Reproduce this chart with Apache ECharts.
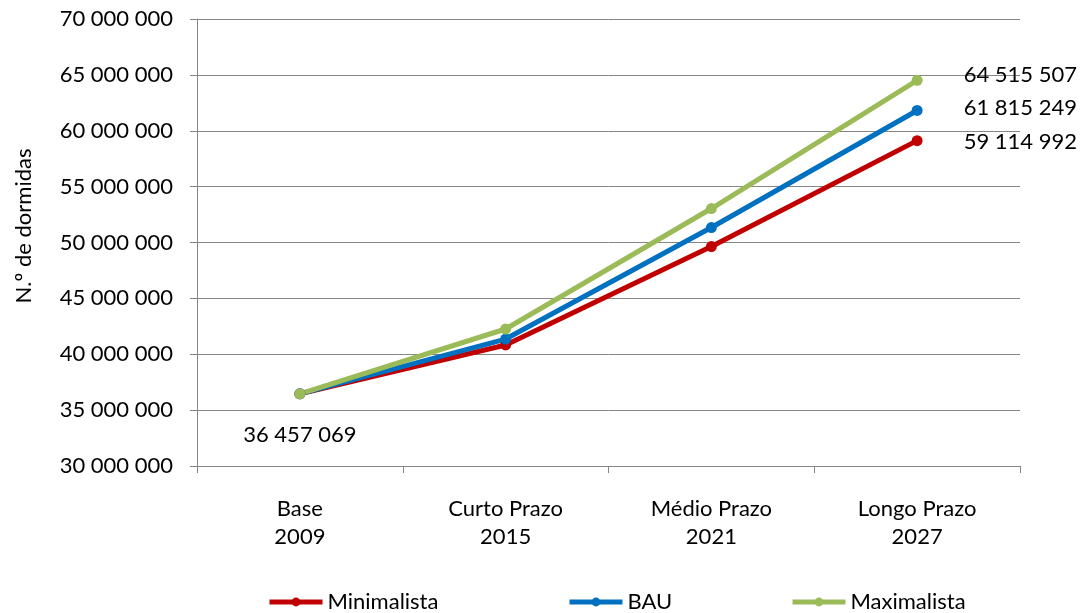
<!DOCTYPE html>
<html>
<head>
<meta charset="utf-8">
<script src="https://cdn.jsdelivr.net/npm/echarts@6/dist/echarts.min.js"></script>
<style>html,body{margin:0;padding:0;background:#fff}#c{width:1080px;height:613px}</style>
</head>
<body>
<div id="c"></div>
<script>
var categories = ["Base\n2009", "Curto Prazo\n2015", "Médio Prazo\n2021", "Longo Prazo\n2027"];
var seriesNames = ["Minimalista", "BAU", "Maximalista"];
var minimalista = [36457069, 40830000, 49640000, 59114992];
var bau = [36457069, 41360000, 51340000, 61815249];
var maximalista = [36457069, 42260000, 53040000, 64515507];
var yTicks = { min: 30000000, max: 70000000, interval: 5000000 };
var yName = "N.º de dormidas";

function fmt(v) { return String(Math.round(v)).replace(/\B(?=(\d{3})+(?!\d))/g, " "); }
var FONT = "Lato";
var FS = 22;

function build(values, endDy, showStart) {
  return values.map(function (v, i) {
    var d = { value: v };
    if (i === values.length - 1) {
      d.label = { show: true, position: 'right', distance: 41, offset: [0, endDy] };
    } else if (i === 0 && showStart) {
      d.label = { show: true, position: 'bottom', distance: 25 };
    }
    return d;
  });
}

function series(name, color, values, endDy, showStart) {
  return {
    name: name, type: 'line', data: build(values, endDy, showStart),
    symbol: 'circle', symbolSize: 11,
    lineStyle: { width: 5, color: color },
    itemStyle: { color: color },
    label: { show: false, formatter: function (p) { return fmt(p.value); }, color: '#000', fontFamily: FONT, fontSize: FS },
    z: 3
  };
}

function legend(name, left) {
  return {
    top: 591, left: left, padding: 0, itemWidth: 53, itemHeight: 11,
    lineStyle: { width: 5 },
    textStyle: { fontFamily: FONT, fontSize: FS, color: '#000', padding: [0, 0, 0, 0] },
    data: [name]
  };
}

var chart = echarts.init(document.getElementById('c'), null, { renderer: 'canvas' });
chart.setOption({
  animation: false,
  backgroundColor: '#fff',
  grid: { left: 197, right: 60, top: 19, bottom: 147, containLabel: false },
  legend: [legend(seriesNames[0], 267), legend(seriesNames[1], 567), legend(seriesNames[2], 790)],
  xAxis: {
    type: 'category', data: categories, boundaryGap: true,
    axisLine: { lineStyle: { color: '#868686', width: 1 } },
    axisTick: { show: true, length: 7, lineStyle: { color: '#868686' } },
    axisLabel: { fontFamily: FONT, fontSize: FS, color: '#000', lineHeight: 28, margin: 29 }
  },
  yAxis: {
    type: 'value', min: yTicks.min, max: yTicks.max, interval: yTicks.interval,
    axisLine: { show: true, lineStyle: { color: '#868686', width: 1 } },
    axisTick: { show: true, length: 7, lineStyle: { color: '#868686' } },
    splitLine: { lineStyle: { color: '#868686', width: 1 } },
    axisLabel: { fontFamily: FONT, fontSize: FS, color: '#000', margin: 24, formatter: fmt }
  },
  graphic: [{
    type: 'text', x: 24, y: 226, rotation: Math.PI / 2,
    style: { text: yName, font: FS + 'px ' + FONT, fill: '#000', textAlign: 'center', textVerticalAlign: 'middle' }
  }],
  series: [
    series(seriesNames[0], '#C00000', minimalista, 1, true),
    series(seriesNames[1], '#0070C0', bau, -3, false),
    series(seriesNames[2], '#9BBB59', maximalista, -5, false)
  ]
});
</script>
</body>
</html>
